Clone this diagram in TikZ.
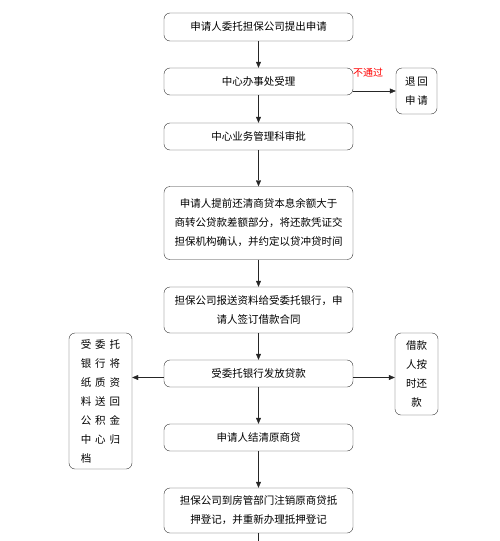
\documentclass[tikz,border=0pt]{standalone}
\usepackage{fontspec}
\setmainfont{Noto Sans CJK SC}
\usetikzlibrary{arrows.meta}

\begin{document}
\begin{tikzpicture}[x=1pt,y=-1pt,
    box/.style={draw=black!80,fill=white,rounded corners=6pt,align=center,inner sep=0pt,
      font=\fontsize{10.5}{19}\selectfont},
    arr/.style={-{Triangle[length=6pt,width=5pt]},black!85}]
  \useasboundingbox (0,0) rectangle (500,541);
  %\draw[very thin,lightgray] (0,0) grid[step=50] (500,541);
  \node[box,minimum width=189pt,minimum height=28pt] (apply) at (258.5,27) {申请人委托担保公司提出申请};
  \node[box,minimum width=189pt,minimum height=27pt] (accept) at (258.5,81.5) {中心办事处受理};
  \node[box,minimum width=189pt,minimum height=27pt] (approve) at (258.5,136.5) {中心业务管理科审批};
  \node[box,minimum width=189pt,minimum height=73pt] (repay) at (258.5,223)
    {申请人提前还清商贷本息余额大于\\商转公贷款差额部分，将还款凭证交\\担保机构确认，并约定以贷冲贷时间};
  \node[box,minimum width=189pt,minimum height=46pt] (contract) at (258.5,310)
    {担保公司报送资料给受委托银行，申\\请人签订借款合同};
  \node[box,minimum width=189pt,minimum height=27pt] (loan) at (258.5,373.5) {受委托银行发放贷款};
  \node[box,minimum width=189pt,minimum height=27pt] (settle) at (258.5,437.5) {申请人结清原商贷};
  \node[box,minimum width=189pt,minimum height=45pt] (cancel) at (258.5,510.5)
    {担保公司到房管部门注销原商贷抵\\押登记，并重新办理抵押登记};
  \node[box,minimum width=41pt,minimum height=46pt] (back) at (416.5,91) {退\,回\\申\,请};
  \node[box,minimum width=63pt,minimum height=136pt,align=left] (archive) at (100.5,401)
    {受\hspace{4pt}委\hspace{4pt}托\\银\hspace{4pt}行\hspace{4pt}将\\纸\hspace{4pt}质\hspace{4pt}资\\料\hspace{4pt}送\hspace{4pt}回\\公\hspace{4pt}积\hspace{4pt}金\\中\hspace{4pt}心\hspace{4pt}归\\档};
  \node[box,minimum width=43pt,minimum height=82pt] (ontime) at (416.5,374) {借款\\人按\\时还\\款};
  \coordinate (down) at (258.5,541);
  \draw[arr] (apply)--(accept);
  \draw[arr] (accept)--(approve);
  \draw[arr] (approve)--(repay);
  \draw[arr] (repay)--(contract);
  \draw[arr] (contract)--(loan);
  \draw[arr] (loan)--(settle);
  \draw[arr] (settle)--(cancel);
  \draw[black!85] (cancel)--(down);
  \draw[arr] (accept.east |- back.west)--(back.west);
  \node[red,font=\fontsize{10}{12}\selectfont,inner sep=0pt] (nopass) at (368,73) {不通过};
  \draw[arr] ([yshift=-4pt]loan.west)--([yshift=-4pt]archive.east |- loan.west);
  \draw[arr] ([yshift=-4pt]loan.east)--([yshift=-4pt]ontime.west |- loan.east);
\end{tikzpicture}
\end{document}
